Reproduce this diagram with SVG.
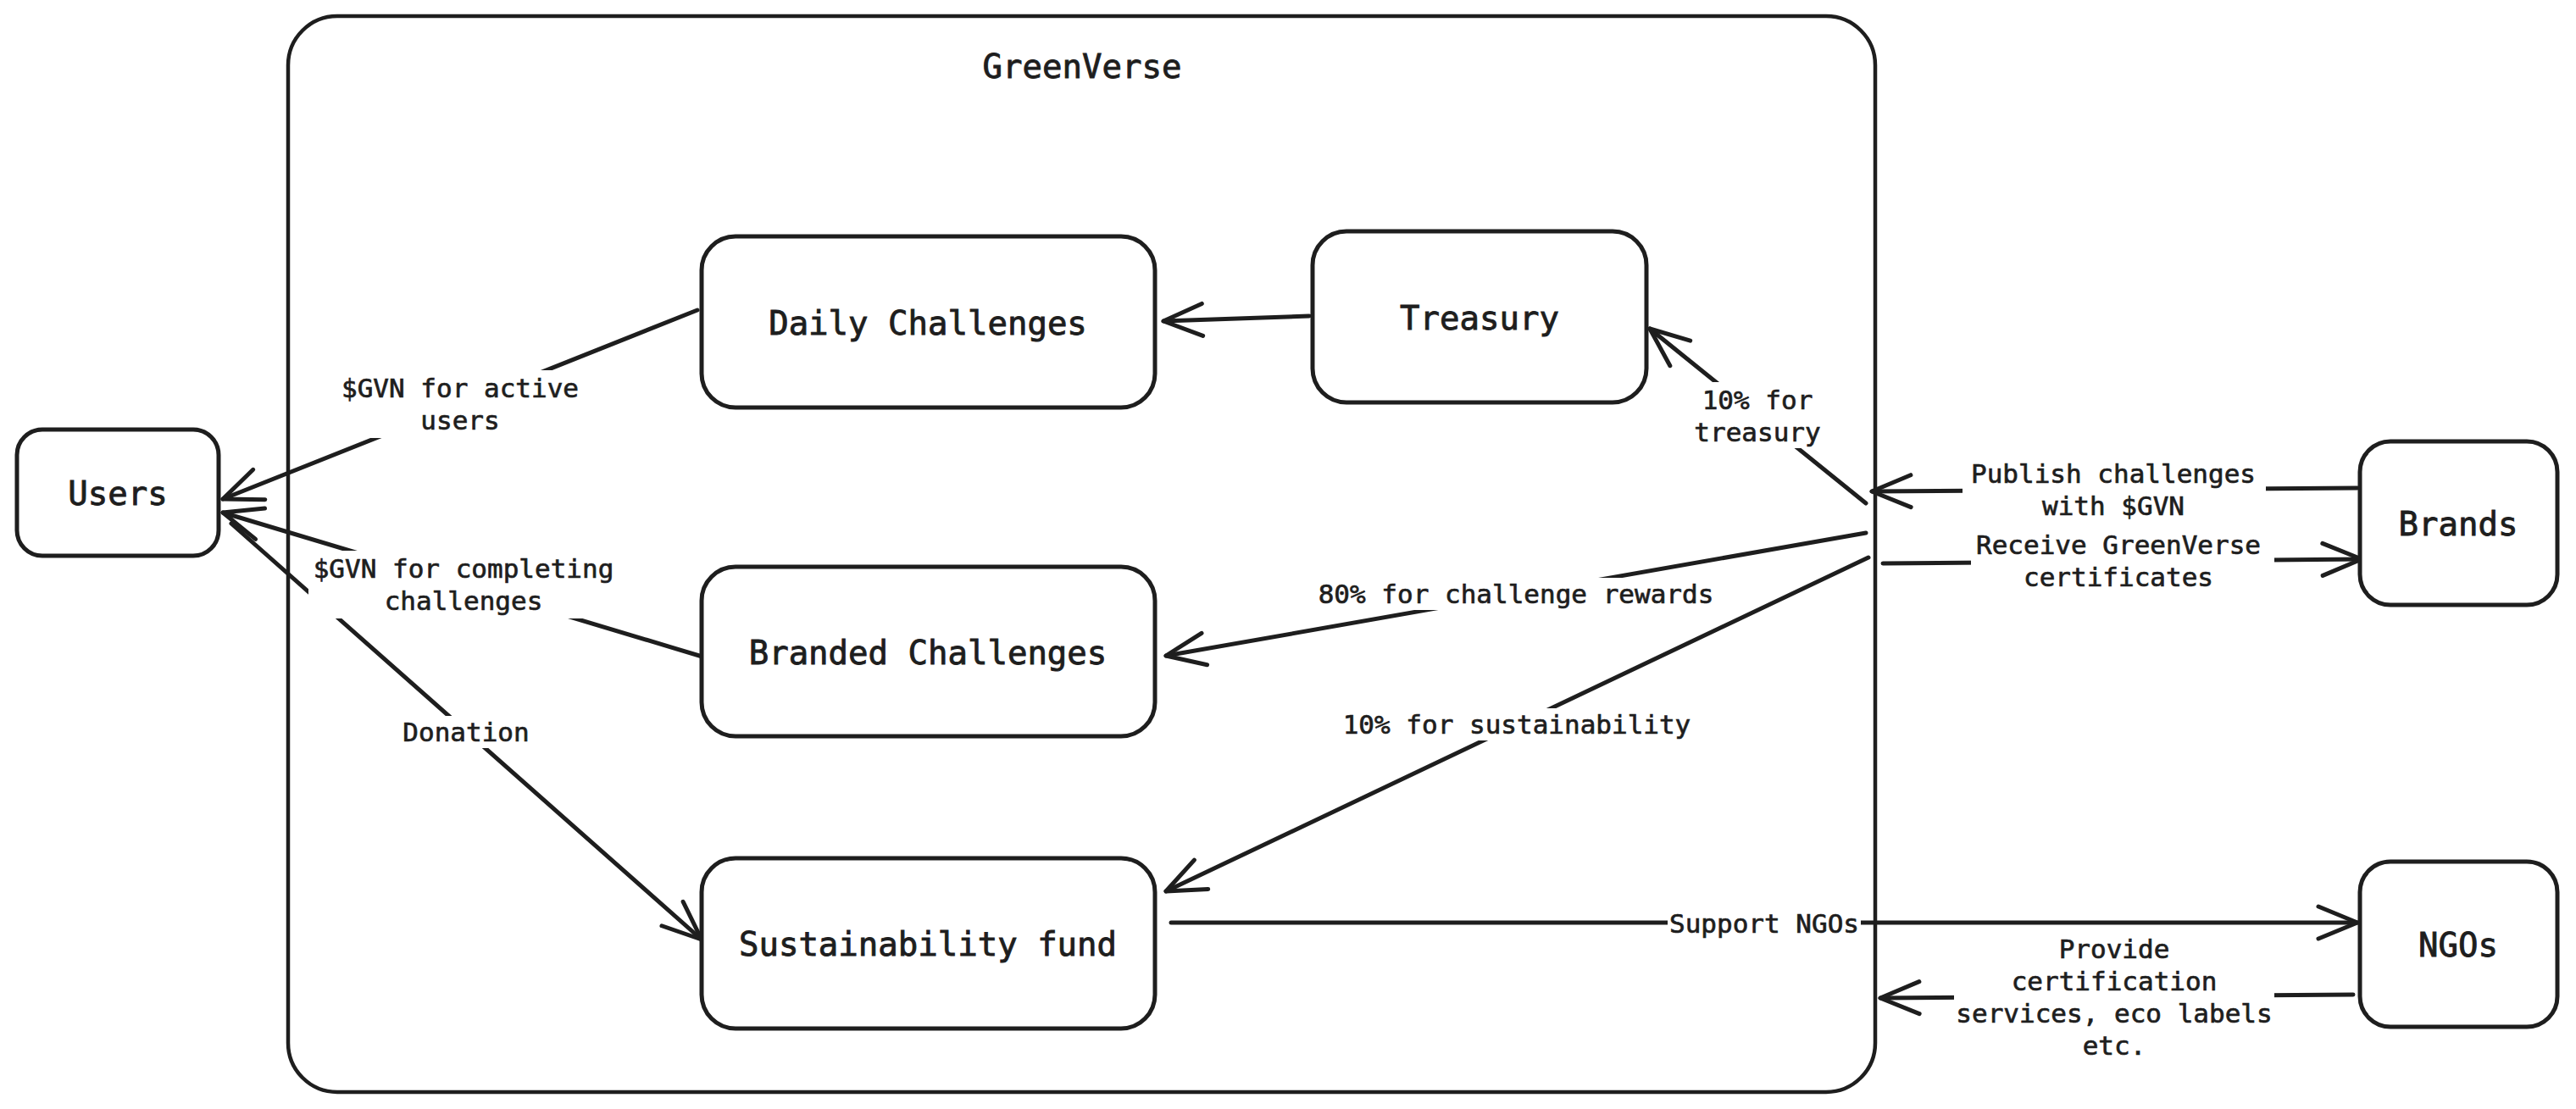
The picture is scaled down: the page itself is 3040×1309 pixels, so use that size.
<svg xmlns="http://www.w3.org/2000/svg" width="3040" height="1309" viewBox="0 0 3040 1309">
<style>
.box{fill:#ffffff;stroke:#1e1e1e;stroke-width:5;stroke-linejoin:round}
.frame{fill:none;stroke:#1e1e1e;stroke-width:4.5}
.ln{fill:none;stroke:#1e1e1e;stroke-width:5;stroke-linecap:round}
.bg{fill:#ffffff;stroke:none}
.nt{font-family:"DejaVu Sans Mono","Liberation Mono",monospace;font-size:39px;fill:#1e1e1e;stroke:#1e1e1e;stroke-width:0.9;text-anchor:middle}
.lt{font-family:"DejaVu Sans Mono","Liberation Mono",monospace;font-size:31px;fill:#1e1e1e;stroke:#1e1e1e;stroke-width:0.7;text-anchor:middle}
</style>
<defs>
<marker id="arr" markerUnits="userSpaceOnUse" viewBox="-60 -30 70 60" refX="0" refY="0" markerWidth="70" markerHeight="60" orient="auto" overflow="visible">
<path d="M -46,-19 L 0,0 L -46,19" fill="none" stroke="#1e1e1e" stroke-width="5" stroke-linecap="round" stroke-linejoin="round"/>
</marker>
</defs>
<rect width="3040" height="1309" fill="#ffffff"/>

<g id="greenverse">
<rect class="frame" x="340" y="19" width="1873" height="1270" rx="58"/>
<text class="nt" x="1277" y="92">GreenVerse</text>
</g>

<g id="connectors">
<line class="ln" x1="823" y1="366" x2="263" y2="589" marker-end="url(#arr)"/>
<line class="ln" x1="832" y1="776" x2="263" y2="605" marker-end="url(#arr)"/>
<line class="ln" x1="273" y1="618" x2="828" y2="1109" marker-end="url(#arr)"/>
<line class="ln" x1="1545" y1="373" x2="1373" y2="379" marker-end="url(#arr)"/>
<line class="ln" x1="2202" y1="594" x2="1947" y2="388" marker-end="url(#arr)"/>
<line class="ln" x1="2202" y1="629" x2="1376" y2="774" marker-end="url(#arr)"/>
<line class="ln" x1="2205" y1="658" x2="1376" y2="1052" marker-end="url(#arr)"/>
<line class="ln" x1="2782" y1="576" x2="2209" y2="580" marker-end="url(#arr)"/>
<line class="ln" x1="2222" y1="665" x2="2787" y2="660" marker-end="url(#arr)"/>
<line class="ln" x1="1382" y1="1089" x2="2782" y2="1089" marker-end="url(#arr)"/>
<line class="ln" x1="2777" y1="1174" x2="2219" y2="1178" marker-end="url(#arr)"/>

<rect class="bg" x="395" y="437" width="296" height="80"/>
<text class="lt" x="543" y="469">$GVN for active</text>
<text class="lt" x="543" y="507">users</text>

<rect class="bg" x="364" y="650" width="366" height="80"/>
<text class="lt" x="547" y="682">$GVN for completing</text>
<text class="lt" x="547" y="720">challenges</text>

<rect class="bg" x="470" y="845" width="160" height="38"/>
<text class="lt" x="550" y="875">Donation</text>

<rect class="bg" x="1994" y="451" width="160" height="78"/>
<text class="lt" x="2074" y="483">10% for</text>
<text class="lt" x="2074" y="521">treasury</text>

<rect class="bg" x="1550" y="682" width="478" height="38"/>
<text class="lt" x="1789" y="712">80% for challenge rewards</text>

<rect class="bg" x="1579" y="836" width="422" height="38"/>
<text class="lt" x="1790" y="866">10% for sustainability</text>

<rect class="bg" x="2316" y="538" width="358" height="80"/>
<text class="lt" x="2494" y="570">Publish challenges</text>
<text class="lt" x="2494" y="608">with $GVN</text>

<rect class="bg" x="2326" y="622" width="358" height="80"/>
<text class="lt" x="2500" y="654">Receive GreenVerse</text>
<text class="lt" x="2500" y="692">certificates</text>

<rect class="bg" x="1968" y="1071" width="228" height="38"/>
<text class="lt" x="2082" y="1101">Support NGOs</text>

<rect class="bg" x="2306" y="1099" width="378" height="158"/>
<text class="lt" x="2495" y="1131">Provide</text>
<text class="lt" x="2495" y="1169">certification</text>
<text class="lt" x="2495" y="1207">services, eco labels</text>
<text class="lt" x="2495" y="1245">etc.</text>
</g>

<g id="users">
<rect class="box" x="20" y="507" width="238" height="149" rx="30"/>
<text class="nt" x="139" y="596">Users</text>
</g>
<g id="daily-challenges">
<rect class="box" x="828" y="279" width="535" height="202" rx="40"/>
<text class="nt" x="1095" y="395">Daily Challenges</text>
</g>
<g id="treasury">
<rect class="box" x="1549" y="273" width="394" height="202" rx="40"/>
<text class="nt" x="1746" y="389">Treasury</text>
</g>
<g id="branded-challenges">
<rect class="box" x="828" y="669" width="535" height="200" rx="40"/>
<text class="nt" x="1095" y="784">Branded Challenges</text>
</g>
<g id="sustainability-fund">
<rect class="box" x="828" y="1013" width="535" height="201" rx="40"/>
<text class="nt" x="1095" y="1128">Sustainability fund</text>
</g>
<g id="brands">
<rect class="box" x="2785" y="521" width="233" height="193" rx="36"/>
<text class="nt" x="2901" y="632">Brands</text>
</g>
<g id="ngos">
<rect class="box" x="2785" y="1017" width="233" height="195" rx="36"/>
<text class="nt" x="2901" y="1129">NGOs</text>
</g>
</svg>
